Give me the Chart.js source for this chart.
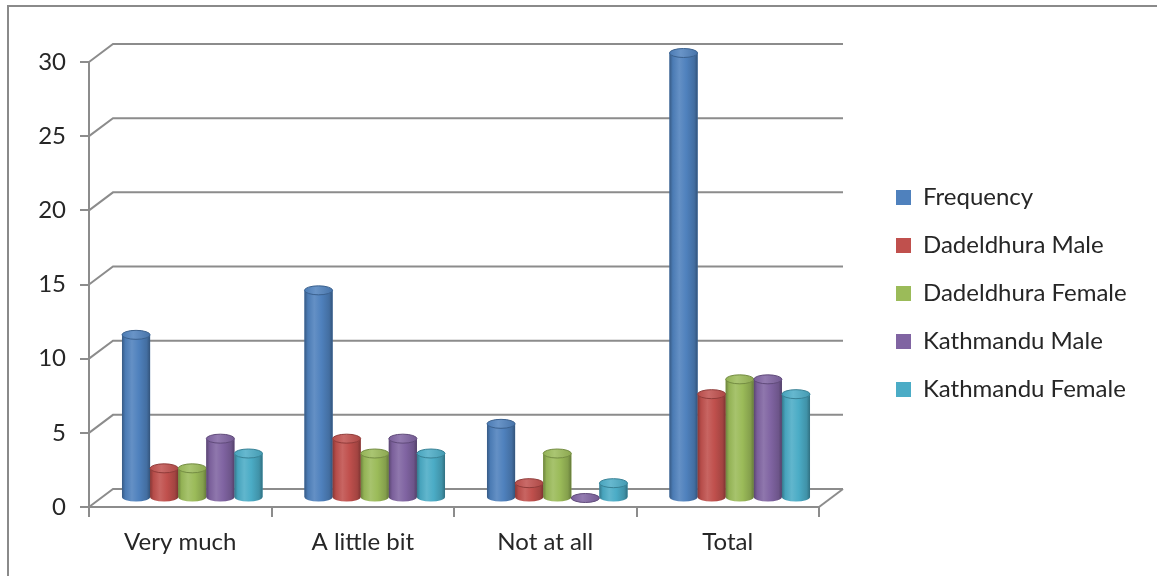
<!DOCTYPE html>
<html>
<head>
<meta charset="utf-8">
<script src="https://cdn.jsdelivr.net/npm/chart.js@4.4.0/dist/chart.umd.min.js"></script>
<style>
  html, body { margin: 0; padding: 0; background: #ffffff; overflow: hidden; }
  #wrap { position: relative; width: 1157px; height: 576px; }
  #frame { position: absolute; left: 7px; top: 5px; width: 1200px; height: 600px;
           border-left: 2px solid #8a8a8a; border-top: 2px solid #8a8a8a; pointer-events: none; }
</style>
</head>
<body>
<div id="wrap">
  <canvas id="c" width="1157" height="576"></canvas>
  <div id="frame"></div>
</div>
<script>
// ---- data ----
const categories = ['Very much', 'A little bit', 'Not at all', 'Total'];
const seriesNames = ['Frequency', 'Dadeldhura Male', 'Dadeldhura Female', 'Kathmandu Male', 'Kathmandu Female'];
const frequency        = [11, 14, 5, 30];
const dadeldhuraMale   = [2, 4, 1, 7];
const dadeldhuraFemale = [2, 3, 3, 8];
const kathmanduMale    = [4, 4, 0, 8];
const kathmanduFemale  = [3, 3, 1, 7];
const yTicks = [0, 5, 10, 15, 20, 25, 30];

// ---- styling ----
const seriesColors = ['#4F81BD', '#C0504D', '#9BBB59', '#8064A2', '#4BACC6'];
const gridColor = '#8c8c8c';
const textColor = '#262626';
const DEPTH_X = 24, DEPTH_Y = -18;       // back wall offset
const BAR_X = 12, BAR_Y = -9;            // bars sit mid-depth
const ELL_RY = 4.5;

function shade(hex, f) {
  const n = parseInt(hex.slice(1), 16);
  let r = (n >> 16) & 255, g = (n >> 8) & 255, b = n & 255;
  const t = f < 0 ? 0 : 255, p = Math.abs(f);
  r = Math.round(r + (t - r) * p); g = Math.round(g + (t - g) * p); b = Math.round(b + (t - b) * p);
  return `rgb(${r},${g},${b})`;
}

const seriesValues = [frequency, dadeldhuraMale, dadeldhuraFemale, kathmanduMale, kathmanduFemale];
const datasets = seriesNames.map((name, i) => ({
  label: name,
  data: seriesValues[i],
  backgroundColor: seriesColors[i],
  borderWidth: 0,
  categoryPercentage: 0.77,
  barPercentage: 1.0,
  clip: false
}));

const threeD = {
  id: 'threeD',
  afterLayout(chart) {
    const lg = chart.legend;
    const newLeft = chart.chartArea.right + 53;
    lg.left = newLeft; lg.right = newLeft + 290;
    lg.top -= 25.5; lg.bottom -= 25.5;
  },
  beforeDatasetsDraw(chart) {
    const ctx = chart.ctx, x = chart.scales.x, y = chart.scales.y;
    ctx.save();
    ctx.strokeStyle = gridColor;
    ctx.lineWidth = 2;
    ctx.lineCap = 'butt';
    yTicks.forEach(v => {
      const py = y.getPixelForValue(v);
      ctx.beginPath();
      ctx.moveTo(x.left, py);
      ctx.lineTo(x.left + DEPTH_X, py + DEPTH_Y);
      ctx.lineTo(x.right + DEPTH_X, py + DEPTH_Y);
      ctx.stroke();
    });
    const p0 = y.getPixelForValue(0);
    ctx.beginPath();
    ctx.moveTo(x.right, p0);
    ctx.lineTo(x.right + DEPTH_X, p0 + DEPTH_Y);
    ctx.stroke();
    ctx.restore();
    ctx.save();
    ctx.translate(BAR_X, BAR_Y);
  },
  afterDatasetsDraw(chart) {
    const ctx = chart.ctx;
    for (let c = 0; c < categories.length; c++) {
      chart.data.datasets.forEach((ds, di) => {
        const meta = chart.getDatasetMeta(di);
        const el = meta.data[c];
        if (!el) return;
        const {x, y, base, width} = el.getProps(['x', 'y', 'base', 'width'], true);
        const col = seriesColors[di];
        const rx = width / 2, ry = ELL_RY;
        const g = ctx.createLinearGradient(x - rx, 0, x + rx, 0);
        g.addColorStop(0, shade(col, -0.3));
        g.addColorStop(0.12, shade(col, -0.05));
        g.addColorStop(0.35, shade(col, 0.12));
        g.addColorStop(0.6, col);
        g.addColorStop(0.88, shade(col, -0.15));
        g.addColorStop(1, shade(col, -0.35));
        ctx.beginPath();
        ctx.moveTo(x - rx, y);
        ctx.lineTo(x - rx, base);
        ctx.ellipse(x, base, rx, ry, 0, Math.PI, 0, true);
        ctx.lineTo(x + rx, y);
        ctx.ellipse(x, y, rx, ry, 0, 0, Math.PI, false);
        ctx.closePath();
        ctx.fillStyle = g;
        ctx.fill();
        const tg = ctx.createLinearGradient(x - rx, 0, x + rx, 0);
        tg.addColorStop(0, shade(col, -0.05));
        tg.addColorStop(0.4, shade(col, 0.15));
        tg.addColorStop(1, shade(col, -0.1));
        ctx.beginPath();
        ctx.ellipse(x, y, rx, ry, 0, 0, Math.PI * 2);
        ctx.fillStyle = tg;
        ctx.fill();
        ctx.lineWidth = 1;
        ctx.strokeStyle = shade(col, -0.25);
        ctx.stroke();
      });
    }
    ctx.restore();
  }
};

new Chart(document.getElementById('c'), {
  type: 'bar',
  data: { labels: categories, datasets },
  options: {
    responsive: false,
    animation: false,
    layout: { padding: { left: 0, right: 138, top: 62, bottom: 0 } },
    plugins: {
      title: { display: false },
      tooltip: { enabled: false },
      legend: {
        display: true,
        position: 'right',
        align: 'center',
        maxWidth: 200,
        labels: {
          boxWidth: 15, boxHeight: 15, padding: 24,
          color: textColor,
          font: { family: 'Lato', size: 24 }
        }
      }
    },
    scales: {
      x: {
        grid: { display: true, drawOnChartArea: false, drawTicks: true, tickLength: 10,
                color: gridColor, lineWidth: 2, offset: true },
        border: { display: true, color: gridColor, width: 2 },
        ticks: { color: textColor, font: { family: 'Lato', size: 24 }, padding: 11, maxRotation: 0 },
        afterFit(s) { s.height = 69; s.paddingLeft = 0; s.paddingRight = 0; }
      },
      y: {
        min: 0, max: 30,
        afterBuildTicks(s) { s.ticks = yTicks.map(v => ({ value: v })); },
        grid: { display: true, drawOnChartArea: false, drawTicks: true, tickLength: 9,
                color: gridColor, lineWidth: 2 },
        border: { display: true, color: gridColor, width: 2 },
        ticks: { color: textColor, font: { family: 'Lato', size: 24 }, padding: 14 },
        afterFit(s) { s.width = 89; s.paddingTop = 0; s.paddingBottom = 0; }
      }
    }
  },
  plugins: [threeD]
});
</script>
</body>
</html>
